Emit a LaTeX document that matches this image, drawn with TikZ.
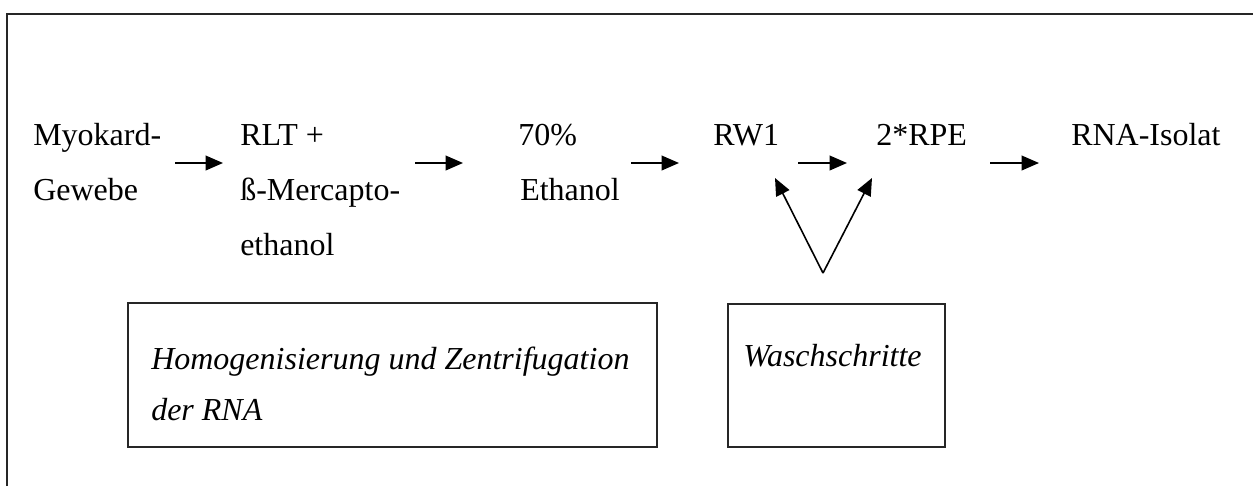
\documentclass[tikz,border=0pt]{standalone}
\usepackage{fontspec}
\setmainfont{Liberation Serif}
\usetikzlibrary{arrows.meta}
\begin{document}
\begin{tikzpicture}[x=0.75pt,y=-0.75pt,
  lbl/.style={inner sep=0pt,anchor=base west,font=\fontsize{24}{29}\selectfont},
  note/.style={lbl,font=\fontsize{24}{29}\selectfont\itshape},
  frame/.style={line width=1.6pt,draw=black!85},
  stepbox/.style={draw=black!85,line width=1.4pt,inner sep=0pt,anchor=north west},
  flow/.style={line width=1.2pt,-{Triangle[length=13pt,width=11pt]}}]
\useasboundingbox (0,0) rectangle (1253,486);
\fill[white] (0,0) rectangle (1253,486);
% surrounding frame (open to the right and bottom)
\draw[frame] (7,486) -- (7,14) -- (1253,14);

% process stages
\node[lbl] (myoA) at (33,145) {Myokard-};
\node[lbl] (myoB) at (33,200) {Gewebe};
\node[lbl] (rltA) at (240,145) {RLT +};
\node[lbl] (rltB) at (240,200) {ß-Mercapto-};
\node[lbl] (rltC) at (240,255) {ethanol};
\node[lbl] (ethA) at (518,145) {70\%};
\node[lbl] (ethB) at (520,200) {Ethanol};
\node[lbl] (rw)   at (713,145) {RW1};
\node[lbl] (rpe)  at (876,145) {2*RPE};
\node[lbl] (iso)  at (1071,145) {RNA-Isolat};

% arrows between the stages
\coordinate (a1s) at (175,163); \coordinate (a1e) at (223,163);
\coordinate (a2s) at (415,163); \coordinate (a2e) at (463,163);
\coordinate (a3s) at (631,163); \coordinate (a3e) at (679,163);
\coordinate (a4s) at (798,163); \coordinate (a4e) at (847,163);
\coordinate (a5s) at (990,163); \coordinate (a5e) at (1039,163);
\draw[flow] (a1s) -- (a1e);
\draw[flow] (a2s) -- (a2e);
\draw[flow] (a3s) -- (a3e);
\draw[flow] (a4s) -- (a4e);
\draw[flow] (a5s) -- (a5e);

% explanation boxes
\node[stepbox,minimum width=396.75pt,minimum height=108pt] (homBox) at (127,302) {};
\node[note] (homA) at (151,369) {Homogenisierung und Zentrifugation};
\node[note] (homB) at (151,420) {der RNA};
\node[stepbox,minimum width=162.75pt,minimum height=107.25pt] (washBox) at (727,303) {};
\node[note] (wash) at (743,366) {Waschschritte};

% washing steps point at RW1 and 2*RPE
\coordinate (vSrc) at (823,273);
\coordinate (vLeft) at (775,178);
\coordinate (vRight) at (872,178);
\draw[flow] (vSrc) -- (vLeft);
\draw[flow] (vSrc) -- (vRight);
\end{tikzpicture}
\end{document}
